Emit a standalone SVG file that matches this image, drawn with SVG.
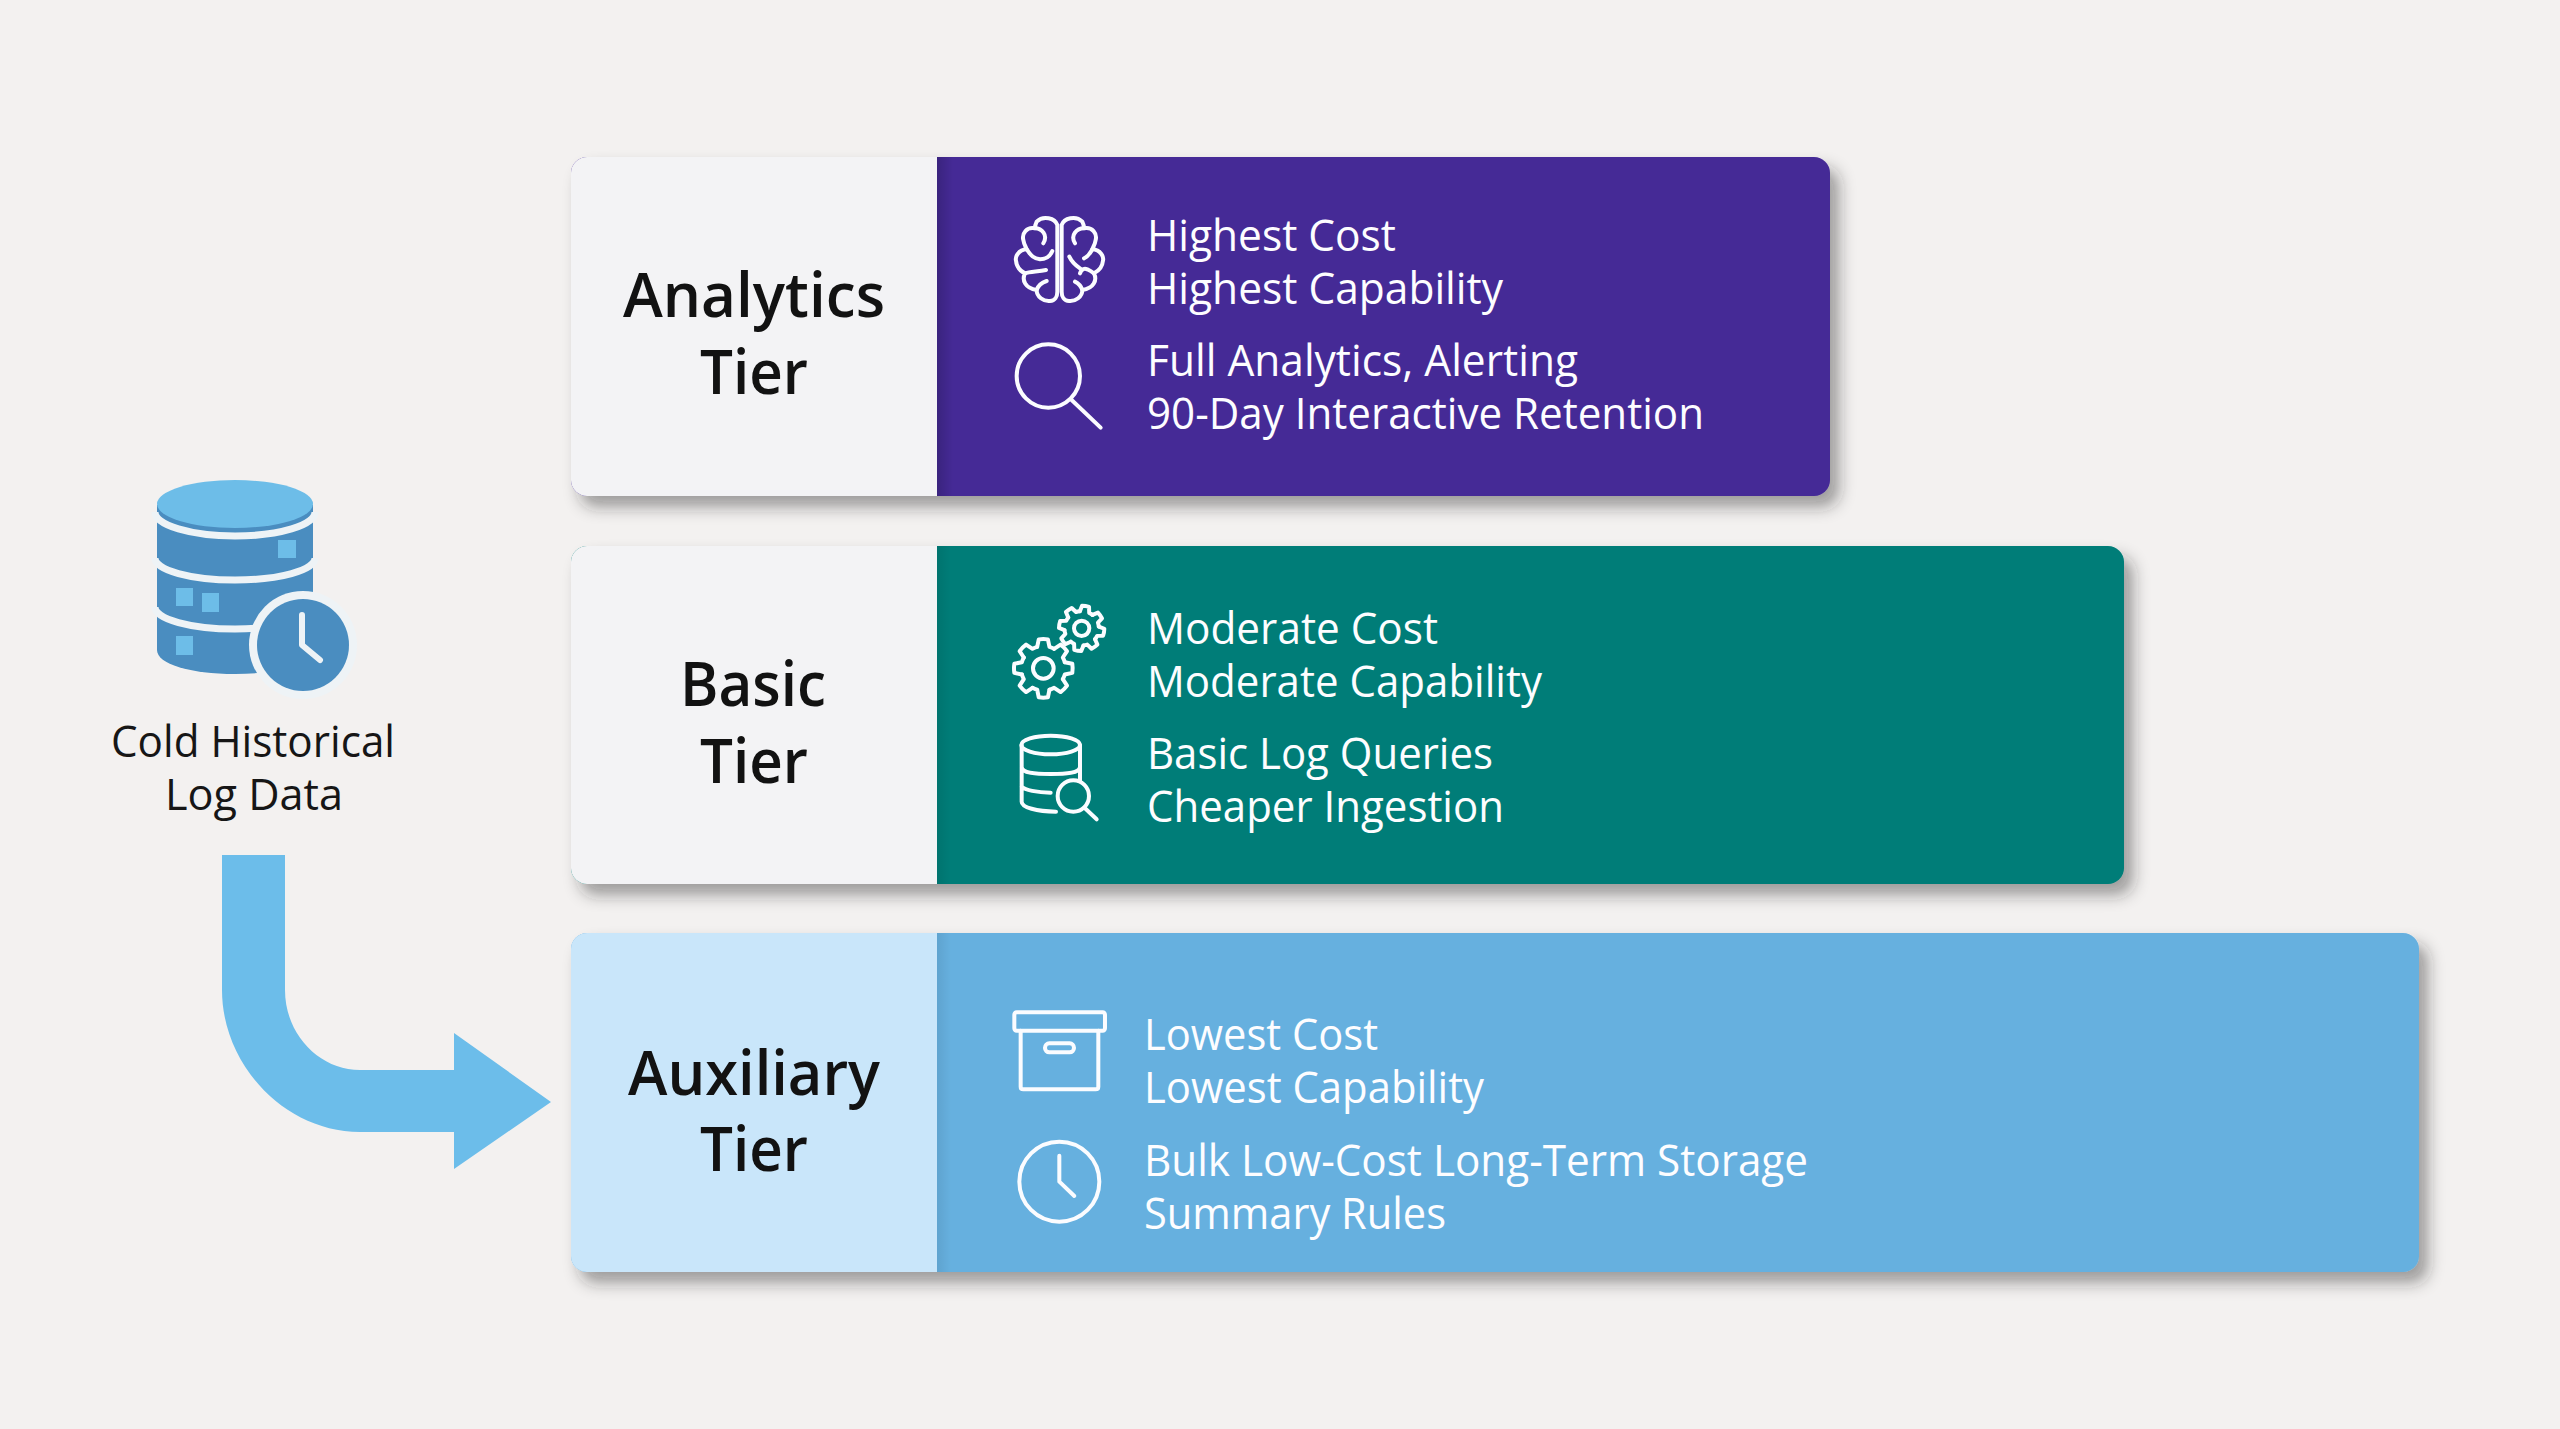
<svg xmlns="http://www.w3.org/2000/svg" xmlns:xlink="http://www.w3.org/1999/xlink" width="2560" height="1429" viewBox="0 0 2560 1429">
<style>
.title{font-family:"Open Sans","Noto Sans","Liberation Sans",sans-serif;font-size:62px;font-weight:600;fill:#121212}
.body{font-family:"Open Sans","Noto Sans","Liberation Sans",sans-serif;font-size:44px;font-weight:400;fill:#fdfdff}
.src{font-family:"Open Sans","Noto Sans","Liberation Sans",sans-serif;font-size:44px;font-weight:400;fill:#161616}
.ico{fill:none;stroke:#fbfcff;stroke-width:12;stroke-linecap:round;stroke-linejoin:round}
.gap{fill:none;stroke:#eef3f6;stroke-width:7;stroke-linecap:butt}
.sq{fill:#6dbde8}
</style>
<defs>
<filter id="sh" x="-5%" y="-15%" width="112%" height="135%"><feDropShadow dx="9" dy="11" stdDeviation="8" flood-color="#222" flood-opacity=".42"/></filter>
<linearGradient id="edge" x1="0" x2="1" y1="0" y2="0"><stop offset="0" stop-color="#000" stop-opacity=".16"/><stop offset="1" stop-color="#000" stop-opacity="0"/></linearGradient>
<path id="t" d="M73.1 -20.9 L98.8 -15.6 A100 100 0 0 1 98.8 15.6 L73.1 20.9 A76 76 0 0 1 66.5 36.8"/>
<g id="gear">
<use xlink:href="#t"/><use xlink:href="#t" transform="rotate(45)"/><use xlink:href="#t" transform="rotate(90)"/><use xlink:href="#t" transform="rotate(135)"/><use xlink:href="#t" transform="rotate(180)"/><use xlink:href="#t" transform="rotate(225)"/><use xlink:href="#t" transform="rotate(270)"/><use xlink:href="#t" transform="rotate(315)"/>
</g>
</defs>
<rect width="2560" height="1429" fill="#f3f1f0"/>

<g id="connectors">
<path id="arrow" fill="#6cbdea" d="M222 855H285V990C285 1035 320 1070 360 1070H454V1033L551 1102L454 1169V1132H360C285 1132 222 1065 222 990Z"/>
</g>

<g id="source">
<path fill="#4a8dc0" d="M157 505H313V650C313 664 280 674 235 674C190 674 157 664 157 650Z"/>
<path class="gap" d="M155 512A80 24 0 0 0 315 512"/>
<ellipse cx="235" cy="504" rx="78" ry="24" fill="#6dbde8"/>
<path class="gap" d="M155 558A80 22 0 0 0 315 558"/>
<path class="gap" d="M155 607A80 22 0 0 0 315 607"/>
<rect class="sq" x="278" y="540" width="18" height="18"/>
<rect class="sq" x="176" y="588" width="17" height="18"/>
<rect class="sq" x="202" y="593" width="17" height="19"/>
<rect class="sq" x="176" y="636" width="17" height="19"/>
<circle cx="303" cy="645" r="54" fill="#eef3f6"/>
<circle cx="303" cy="645" r="46" fill="#4a8dc0"/>
<path d="M302 615V645L320 660" fill="none" stroke="#eef3f6" stroke-width="6" stroke-linecap="round" stroke-linejoin="round"/>
<text class="src" x="111" y="757" textLength="284" lengthAdjust="spacingAndGlyphs">Cold Historical</text>
<text class="src" x="165" y="810" textLength="178" lengthAdjust="spacingAndGlyphs">Log Data</text>
</g>

<g id="analytics">
<rect x="571" y="157" width="1259" height="339" rx="16" fill="#452a96" filter="url(#sh)"/>
<path d="M937 157H587A16 16 0 0 0 571 173V480A16 16 0 0 0 587 496H937Z" fill="#f3f3f5"/>
<rect x="937" y="157" width="16" height="339" fill="url(#edge)"/>
<text class="title" x="623" y="317" textLength="262" lengthAdjust="spacingAndGlyphs">Analytics</text>
<text class="title" x="700" y="394" textLength="108" lengthAdjust="spacingAndGlyphs">Tier</text>
<g class="ico" transform="translate(980 190) scale(.3333)">
<path d="M232 105C225 85 190 75 170 95C165 105 165 110 165 115C140 110 125 130 130 150C132 165 140 175 140 178C115 180 105 200 108 212C110 235 125 245 135 250C125 270 135 295 170 300C170 320 190 335 210 333C225 333 232 320 232 305Z"/>
<path d="M245 105C252 85 287 75 307 95C312 105 312 110 312 115C337 110 352 130 347 150C345 165 337 175 337 178C362 180 372 200 369 212C367 235 352 245 342 250C352 270 342 295 307 300C307 320 287 335 267 333C252 333 245 320 245 305Z"/>
<path d="M165 115C185 115 205 135 190 160M140 178C150 190 155 205 180 208C195 208 210 200 217 183M135 250C150 245 175 245 198 240M170 300C175 285 185 278 200 273"/>
<path d="M312 115C290 115 270 135 285 160M337 178C330 190 325 200 312 205M268 200C275 215 285 225 300 235M300 250C305 235 315 235 322 238M342 250C335 245 330 242 322 238M307 300C302 285 295 280 285 275"/>
<circle cx="205" cy="558" r="95"/>
<path d="M275 630L362 713"/>
</g>
<text class="body" x="1147" y="251" textLength="249" lengthAdjust="spacingAndGlyphs">Highest Cost</text>
<text class="body" x="1147" y="304" textLength="356" lengthAdjust="spacingAndGlyphs">Highest Capability</text>
<text class="body" x="1147" y="376" textLength="431" lengthAdjust="spacingAndGlyphs">Full Analytics, Alerting</text>
<text class="body" x="1147" y="429" textLength="557" lengthAdjust="spacingAndGlyphs">90-Day Interactive Retention</text>
</g>

<g id="basic">
<rect x="571" y="546" width="1553" height="338" rx="16" fill="#007d78" filter="url(#sh)"/>
<path d="M937 546H587A16 16 0 0 0 571 562V868A16 16 0 0 0 587 884H937Z" fill="#f3f3f5"/>
<rect x="937" y="546" width="14" height="338" fill="url(#edge)" opacity=".5"/>
<text class="title" x="680" y="706" textLength="146" lengthAdjust="spacingAndGlyphs">Basic</text>
<text class="title" x="700" y="783" textLength="108" lengthAdjust="spacingAndGlyphs">Tier</text>
<g class="ico" transform="translate(980 590) scale(.3333)">
<use xlink:href="#gear" transform="translate(190 235) rotate(0) scale(.88)" style="stroke-width:13.6"/>
<circle cx="190" cy="235" r="31"/>
<use xlink:href="#gear" transform="translate(305 115) rotate(10) scale(.68)" style="stroke-width:17.6"/>
<circle cx="305" cy="115" r="23"/>
<ellipse cx="212" cy="465" rx="88" ry="28"/>
<path d="M125 465V635C125 652 170 665 228 665M300 465V572M125 530C125 550 170 552 212 552C255 552 300 550 300 530M125 590C135 600 170 608 212 608"/>
<circle cx="280" cy="618" r="47"/>
<path d="M315 655L350 688"/>
</g>
<text class="body" x="1147" y="644" textLength="291" lengthAdjust="spacingAndGlyphs">Moderate Cost</text>
<text class="body" x="1147" y="697" textLength="395" lengthAdjust="spacingAndGlyphs">Moderate Capability</text>
<text class="body" x="1147" y="769" textLength="346" lengthAdjust="spacingAndGlyphs">Basic Log Queries</text>
<text class="body" x="1147" y="822" textLength="357" lengthAdjust="spacingAndGlyphs">Cheaper Ingestion</text>
</g>

<g id="auxiliary">
<rect x="571" y="933" width="1848" height="339" rx="16" fill="#66b0df" filter="url(#sh)"/>
<path d="M937 933H587A16 16 0 0 0 571 949V1256A16 16 0 0 0 587 1272H937Z" fill="#c9e6fa"/>
<rect x="937" y="933" width="14" height="339" fill="url(#edge)" opacity=".45"/>
<text class="title" x="628" y="1095" textLength="252" lengthAdjust="spacingAndGlyphs">Auxiliary</text>
<text class="title" x="700" y="1171" textLength="108" lengthAdjust="spacingAndGlyphs">Tier</text>
<g class="ico" transform="translate(980 990) scale(.3333)">
<rect x="103" y="67" width="272" height="55" rx="7"/>
<path d="M122 122V290Q122 298 130 298H347Q355 298 355 290V122"/>
<rect x="195" y="160" width="87" height="27" rx="13"/>
<circle cx="238" cy="575" r="120"/>
<path d="M238 497V575L283 618"/>
</g>
<text class="body" x="1144" y="1050" textLength="234" lengthAdjust="spacingAndGlyphs">Lowest Cost</text>
<text class="body" x="1144" y="1103" textLength="340" lengthAdjust="spacingAndGlyphs">Lowest Capability</text>
<text class="body" x="1144" y="1176" textLength="664" lengthAdjust="spacingAndGlyphs">Bulk Low-Cost Long-Term Storage</text>
<text class="body" x="1144" y="1229" textLength="302" lengthAdjust="spacingAndGlyphs">Summary Rules</text>
</g>
</svg>
